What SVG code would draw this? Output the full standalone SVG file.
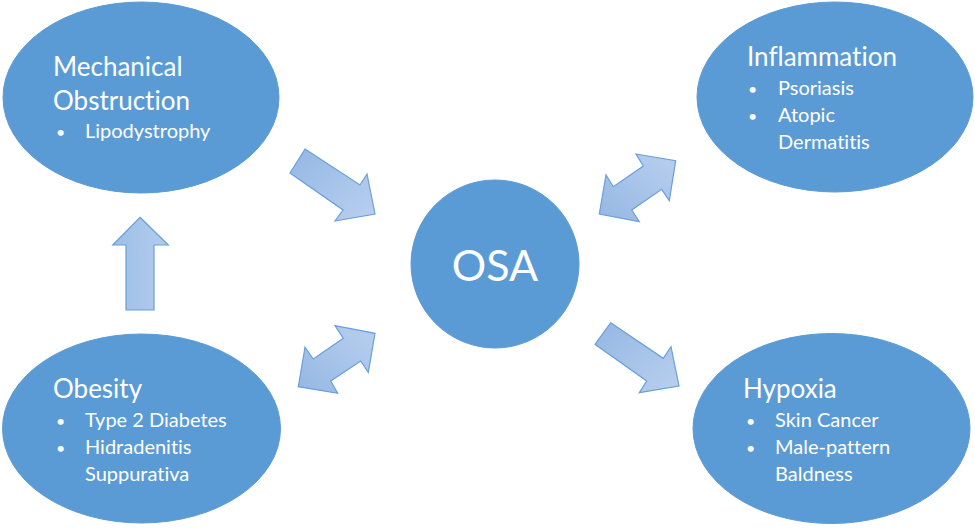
<svg xmlns="http://www.w3.org/2000/svg" width="975" height="528" viewBox="0 0 975 528">
<style>
.node{fill:#5B9BD5;stroke:#5B9BD5;stroke-width:1}
.t{font-family:Lato,"Open Sans","Liberation Sans",sans-serif;fill:#FFFFFF;font-variant-ligatures:none;font-feature-settings:"liga" 0,"dlig" 0}
.h{font-size:26px}
.b{font-size:20px}
.d{font-size:16px}
.osa{font-size:43px}
.arr{stroke:#6A9FDA;stroke-width:1.2;stroke-linejoin:miter}
</style>
<defs>
<linearGradient id="g1" x1="0" y1="0" x2="1" y2="1">
<stop offset="0" stop-color="#94B7E3"/>
<stop offset="1" stop-color="#B9D0EF"/>
</linearGradient>
<linearGradient id="g2" x1="0" y1="1" x2="1" y2="0">
<stop offset="0" stop-color="#94B7E3"/>
<stop offset="1" stop-color="#B9D0EF"/>
</linearGradient>
<linearGradient id="g3" x1="0" y1="0" x2="1" y2="0">
<stop offset="0" stop-color="#9DBEE6"/>
<stop offset="1" stop-color="#B3CCEE"/>
</linearGradient>
</defs>
<g id="connectors">
<polygon class="arr" fill="url(#g1)" points="305,149 360,185 367,174 375,214 335,221 343,210 290,173"/>
<polygon class="arr" fill="url(#g2)" points="636,154 675.7,160.7 669.3,200.7 661.7,189.3 631.7,210 639.3,221.7 599.3,214 606,175 613.3,186.7 643.3,166"/>
<polygon class="arr" fill="url(#g2)" points="335,325.7 375,333.3 368.3,372.3 360.7,361 330.7,381 337.7,393.3 298.3,386.7 305,347.3 313.3,359 343.3,338.3"/>
<polygon class="arr" fill="url(#g1)" points="610.7,322.7 663.3,358.3 671,346.7 679,386 639.3,392.7 646.7,381 595,344.3"/>
<polygon class="arr" fill="url(#g3)" points="140,217.3 168.3,245 154,245 154,310 126,310 126,245 112.7,245"/>
</g>
<g id="mechanical">
<ellipse class="node" cx="141" cy="97.5" rx="138" ry="95.5"/>
<text class="t h" x="53" y="76">Mechanical</text>
<text class="t h" x="53" y="110">Obstruction</text>
<text class="t d" x="56" y="138">•</text>
<text class="t b" x="85" y="138">Lipodystrophy</text>
</g>
<g id="inflammation">
<ellipse class="node" cx="835" cy="97" rx="138" ry="95"/>
<text class="t h" x="747" y="66">Inflammation</text>
<text class="t d" x="748" y="95">•</text>
<text class="t b" x="778" y="95">Psoriasis</text>
<text class="t d" x="748" y="122">•</text>
<text class="t b" x="778" y="122">Atopic</text>
<text class="t b" x="778" y="148.5">Dermatitis</text>
</g>
<g id="osa">
<circle class="node" cx="495" cy="264" r="84"/>
<text class="t osa" x="495" y="281" text-anchor="middle">OSA</text>
</g>
<g id="obesity">
<ellipse class="node" cx="141.5" cy="428.5" rx="139" ry="94.5"/>
<text class="t h" x="53" y="398">Obesity</text>
<text class="t d" x="56" y="427">•</text>
<text class="t b" x="85" y="427">Type 2 Diabetes</text>
<text class="t d" x="56" y="454">•</text>
<text class="t b" x="85" y="454">Hidradenitis</text>
<text class="t b" x="85" y="481">Suppurativa</text>
</g>
<g id="hypoxia">
<ellipse class="node" cx="831.5" cy="428.5" rx="138.5" ry="95"/>
<text class="t h" x="743" y="398">Hypoxia</text>
<text class="t d" x="746" y="427">•</text>
<text class="t b" x="775" y="427">Skin Cancer</text>
<text class="t d" x="746" y="454">•</text>
<text class="t b" x="775" y="454">Male-pattern</text>
<text class="t b" x="775" y="481">Baldness</text>
</g>
</svg>
